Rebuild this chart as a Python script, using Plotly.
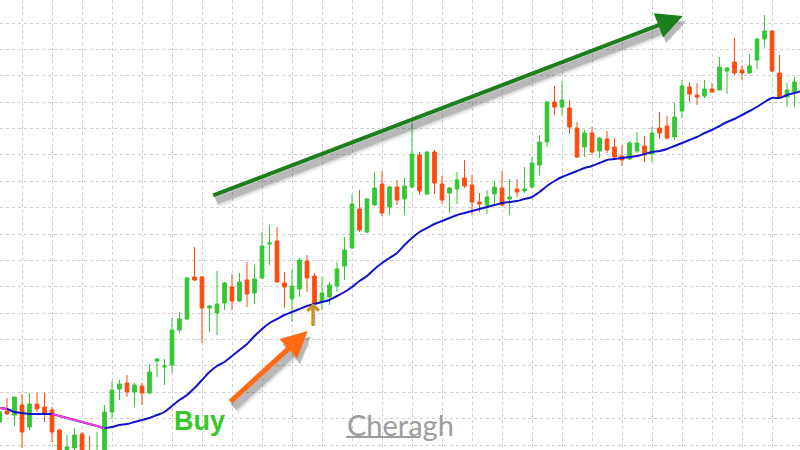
import plotly.graph_objects as go

# OHLC prices, one bar per session
opens = [
    7.8, 8.9, 8.5, 9.5, 7.3, 9.6, 9.3, 9.0, 7.0, 4.5,
    5.2, 6.6, 4.8, 4.0, 4.5, 8.8, 11.1, 11.7, 10.8, 11.4,
    10.7, 13.9, 13.3, 13.5, 17.0, 18.1, 22.3, 22.3, 19.2, 18.7,
    19.7, 21.3, 19.9, 22.0, 20.7, 22.2, 25.6, 25.9, 21.7, 20.1,
    21.1, 23.9, 22.4, 19.8, 20.3, 21.4, 23.4, 25.2, 29.1, 26.8,
    29.5, 31.6, 29.3, 31.3, 30.1, 31.3, 34.5, 30.6, 34.8, 31.6,
    30.7, 31.1, 32.2, 31.5, 29.8, 29.5, 30.6, 31.2, 30.1, 31.1,
    30.9, 31.3, 33.5, 35.8, 39.8, 39.3, 39.2, 37.2, 35.3, 36.7,
    34.9, 36.1, 35.3, 34.4, 34.1, 34.9, 35.4, 34.6, 37.2, 37.4,
    36.3, 38.9, 41.3, 40.5, 40.4, 41.1, 41.0, 42.9, 43.8, 43.0,
    42.7, 44.0, 46.1, 46.9, 42.7, 40.3, 40.8, 41.6,
]
closes = [
    8.8, 8.6, 10.3, 6.8, 9.6, 9.1, 8.7, 6.8, 4.5, 5.3,
    6.5, 4.5, 4.2, 4.8, 8.8, 11.0, 11.6, 10.8, 11.5, 10.7,
    12.8, 14.1, 13.4, 17.0, 18.1, 22.2, 22.0, 19.2, 19.4, 19.6,
    21.7, 19.9, 21.8, 20.6, 22.1, 25.4, 25.7, 21.8, 21.3, 21.4,
    24.0, 22.2, 19.6, 20.7, 21.5, 23.1, 25.0, 29.6, 27.0, 30.1,
    31.2, 28.7, 31.3, 30.0, 31.4, 34.6, 30.9, 34.8, 31.7, 30.0,
    31.2, 32.0, 31.4, 29.8, 29.6, 30.3, 31.3, 29.5, 30.3, 30.8,
    31.1, 33.7, 35.8, 39.8, 39.3, 40.0, 37.3, 34.3, 36.7, 34.8,
    36.2, 35.0, 34.3, 34.0, 35.7, 35.7, 34.5, 36.7, 36.7, 36.2,
    38.3, 41.4, 40.6, 40.3, 41.1, 40.8, 43.3, 43.2, 42.7, 42.7,
    43.4, 46.1, 46.9, 42.9, 40.3, 41.0, 41.8, 41.8,
]
highs = [
    9.5, 10.2, 10.3, 10.6, 10.7, 10.7, 10.7, 9.3, 7.1, 6.5,
    7.2, 6.8, 6.4, 6.8, 9.5, 11.9, 12.0, 12.5, 11.7, 11.7,
    13.6, 14.2, 14.1, 18.2, 18.8, 22.3, 25.3, 22.4, 19.5, 22.9,
    21.8, 22.6, 22.7, 23.8, 23.5, 26.8, 27.5, 27.3, 22.8, 23.1,
    24.2, 24.5, 22.7, 22.3, 21.8, 23.8, 26.3, 30.5, 31.0, 30.2,
    32.8, 32.9, 31.4, 32.0, 32.2, 37.7, 34.8, 34.9, 35.0, 32.4,
    31.3, 32.8, 34.0, 32.5, 30.7, 31.0, 31.9, 32.9, 32.1, 32.1,
    33.3, 34.3, 36.5, 39.9, 41.4, 41.9, 40.0, 37.8, 37.0, 37.3,
    36.3, 36.9, 36.2, 35.5, 35.9, 36.8, 36.4, 37.3, 38.8, 38.4,
    39.7, 42.0, 41.8, 41.7, 42.0, 41.7, 44.3, 43.3, 46.2, 43.5,
    44.6, 46.2, 48.5, 47.0, 44.5, 41.7, 42.3, 42.0,
]
lows = [
    7.5, 8.5, 7.4, 5.2, 7.0, 8.8, 7.8, 5.8, 4.0, 4.2,
    4.8, 4.0, 3.8, 3.5, 4.2, 8.1, 10.0, 10.3, 9.3, 9.5,
    10.6, 12.3, 11.5, 12.7, 16.7, 18.0, 21.9, 15.7, 16.8, 16.5,
    19.0, 19.0, 19.8, 19.3, 19.6, 22.1, 23.5, 21.7, 19.2, 17.8,
    20.3, 20.8, 19.5, 19.0, 19.5, 20.8, 22.0, 25.1, 26.8, 26.7,
    29.4, 28.4, 28.5, 29.5, 28.5, 31.2, 30.5, 30.5, 30.6, 29.6,
    28.7, 29.6, 31.2, 28.5, 28.8, 28.6, 29.6, 29.4, 28.5, 30.3,
    30.7, 31.2, 32.5, 35.3, 38.5, 38.5, 36.6, 34.2, 34.3, 34.5,
    34.2, 34.7, 34.2, 33.4, 34.0, 34.7, 33.8, 33.8, 36.1, 36.1,
    36.0, 38.2, 39.8, 39.5, 40.2, 40.7, 41.0, 40.6, 42.5, 42.0,
    42.6, 43.1, 45.3, 42.8, 40.1, 39.3, 39.3, 41.4,
]

# moving average values for each bar
ma = [
    9.2, 9.1, 8.8, 8.7, 8.6, 8.6, 8.6, 8.6, 8.4, 8.2,
    8.0, 7.8, 7.6, 7.4, 7.2, 7.3, 7.5, 7.6, 7.8, 8.0,
    8.2, 8.5, 8.8, 9.4, 10.0, 10.5, 11.2, 12.0, 12.8, 13.4,
    13.8, 14.4, 15.0, 15.6, 16.4, 17.1, 17.7, 18.1, 18.5, 18.8,
    19.1, 19.4, 19.6, 19.8, 20.0, 20.4, 20.8, 21.3, 21.9, 22.4,
    23.1, 23.7, 24.2, 24.7, 25.5, 26.2, 26.8, 27.2, 27.6, 27.9,
    28.2, 28.5, 28.7, 28.9, 29.1, 29.3, 29.5, 29.7, 29.8, 29.9,
    30.1, 30.3, 30.8, 31.4, 31.9, 32.3, 32.6, 32.9, 33.2, 33.4,
    33.7, 34.0, 34.1, 34.2, 34.3, 34.4, 34.6, 34.8, 34.9, 35.1,
    35.4, 35.7, 36.0, 36.3, 36.7, 37.0, 37.4, 37.8, 38.1, 38.5,
    38.9, 39.3, 39.8, 40.2, 40.2, 40.5, 40.7, 40.9,
]
# stretches of the average drawn in the "falling" colour
falling_spans = [(0, 1), (7, 14)]

# bar where the buy signal fires
signal_bar = 42

GREEN = "#33C733"
RED = "#FF4A0E"
BLUE = "#1212CC"
PINK = "#F03CDC"
GRID = "#cfcfcf"

bars = list(range(len(opens)))

fig = go.Figure()

fig.add_trace(go.Candlestick(
    x=bars, open=opens, high=highs, low=lows, close=closes,
    increasing=dict(line=dict(color=GREEN, width=1), fillcolor=GREEN),
    decreasing=dict(line=dict(color=RED, width=1), fillcolor=RED),
    whiskerwidth=0, hoverinfo="skip", showlegend=False,
))

ma_x = list(range(len(ma)))
fig.add_trace(go.Scatter(
    x=ma_x, y=ma, mode="lines",
    line=dict(color=BLUE, width=2, shape="spline", smoothing=0.8),
    hoverinfo="skip", showlegend=False,
))
for a, b in falling_spans:
    fig.add_trace(go.Scatter(
        x=ma_x[a:b + 1], y=ma[a:b + 1], mode="lines",
        line=dict(color=PINK, width=2, shape="spline", smoothing=0.8),
        hoverinfo="skip", showlegend=False,
    ))

# fractal arrow under the signal bar
fig.add_trace(go.Scatter(
    x=[signal_bar - 0.2], y=[lows[signal_bar] - 1.3], mode="text",
    text=["<b>↑</b>"],
    textfont=dict(family="DejaVu Sans", size=30, color="#C9922A"),
    hoverinfo="skip", showlegend=False,
))


def arrow(tail, tip, color, width, size):
    return dict(
        x=tip[0], y=tip[1], ax=tail[0], ay=tail[1],
        xref="x", yref="y", axref="x", ayref="y",
        text="", showarrow=True, arrowhead=2, arrowsize=size,
        arrowwidth=width, arrowcolor=color, standoff=0,
    )


def shifted(pt, dx, dy):
    return (pt[0] + dx, pt[1] + dy)


trend_tail, trend_tip = (28.3, 30.4), (91.1, 48.4)
buy_tail, buy_tip = (30.6, 9.7), (41.1, 16.9)

annotations = []
for tail, tip, color, w, s in [
    (trend_tail, trend_tip, "#1C7E1C", 4, 1.3),
    (buy_tail, buy_tip, "#FF6A12", 5, 1.05),
]:
    # soft drop shadow
    for extra, alpha in [(10, 0.06), (6, 0.09), (3, 0.14)]:
        annotations.append(arrow(shifted(tail, 0.4, -0.55), shifted(tip, 0.4, -0.55),
                                 f"rgba(0,0,0,{alpha})", w + extra,
                                 s * w / (w + extra)))
    annotations.append(arrow(tail, tip, color, w, s))

annotations.append(dict(
    x=26.7, y=7.9, xref="x", yref="y", text="<b>Buy</b>", showarrow=False,
    font=dict(family="Liberation Sans", size=27, color="#36C72A"),
))
annotations.append(dict(
    x=53.5, y=7.6, xref="x", yref="y", text="Cheragh", showarrow=False,
    font=dict(family="Lato", size=29, color="#9c9c9c"),
))

fig.update_layout(
    width=800, height=450,
    margin=dict(l=0, r=0, t=0, b=0),
    paper_bgcolor="white", plot_bgcolor="white",
    showlegend=False,
    annotations=annotations,
    shapes=[dict(type="line", xref="x", yref="y", x0=46.2, x1=56.1, y0=6.3, y1=6.3,
                 line=dict(color="#9c9c9c", width=2))],
    xaxis=dict(
        range=[0.067, 106.73], rangeslider=dict(visible=False),
        showgrid=True, gridcolor=GRID, griddash="3px,3px", gridwidth=1,
        tick0=3, dtick=4, showticklabels=False, zeroline=False, showline=False,
        ticks="",
    ),
    yaxis=dict(
        range=[5, 50], showgrid=True, gridcolor=GRID, griddash="3px,3px",
        gridwidth=1, tick0=5.5, dtick=2.6375, showticklabels=False,
        zeroline=False, showline=False, ticks="",
    ),
)

fig.write_html("out.html")
